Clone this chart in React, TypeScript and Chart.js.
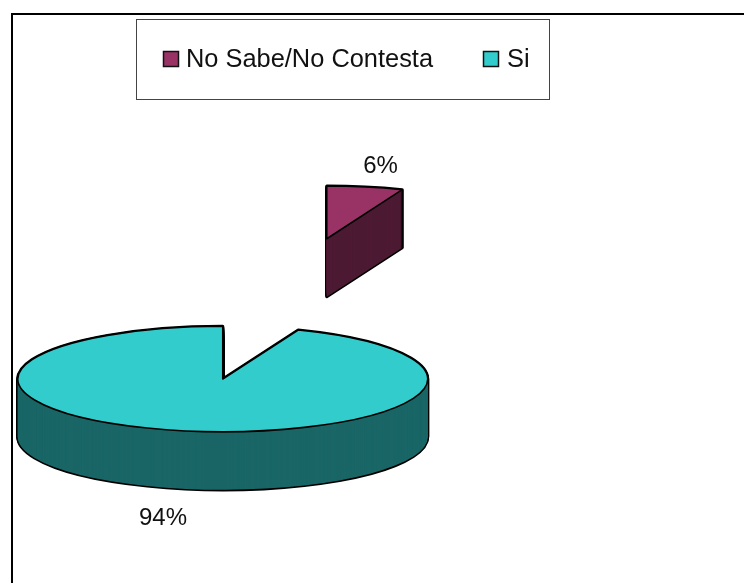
import { useEffect, useRef } from "react";
import { Chart, registerables } from "chart.js";

Chart.register(...registerables);

const categories = ["No Sabe/No Contesta", "Si"];
const shares = [6, 94];
const topColors = ["#993366", "#33CCCC"];
const sideColors = ["#4D1A33", "#1A6666"];

const LABEL_FONT = '24px "Liberation Sans", Arial, sans-serif';
const LEGEND_FONT = '25.4px "Liberation Sans", Arial, sans-serif';
const TILT = 53 / 206; // vertical squash of the pie plane
const DEPTH = 58; // height of the extruded rim
const PLANE_Y = 379; // screen y of the pie centre
const EXPLODE = [555, 0]; // radial pull of each slice, before the squash
const LABEL_POS = [
  { x: 380.5, y: 173 },
  { x: 163, y: 525 },
];
const LEGEND_BOX = { left: 136, top: 19, right: 549, bottom: 99 };
const LEGEND_KEYS = [
  { box: 163, text: 186 },
  { box: 483, text: 507 },
];

// Traces one slice as a squashed wedge, shifted down by `drop` pixels.
function wedgePath(ctx: CanvasRenderingContext2D, arc: any, explode: number, drop: number) {
  const { x, outerRadius, startAngle, endAngle } = arc.getProps(
    ["x", "outerRadius", "startAngle", "endAngle"],
    true,
  );
  const mid = (startAngle + endAngle) / 2;
  const cx = x + Math.cos(mid) * explode;
  const cy = PLANE_Y + Math.sin(mid) * explode * TILT + drop;
  ctx.beginPath();
  ctx.moveTo(cx, cy);
  ctx.ellipse(cx, cy, outerRadius, outerRadius * TILT, 0, startAngle, endAngle);
  ctx.closePath();
}

const tiltedPie = {
  id: "tiltedPie",
  beforeDraw(chart: any) {
    const { ctx, width, height } = chart;
    ctx.save();
    ctx.fillStyle = "#ffffff";
    ctx.fillRect(0, 0, width, height);
    ctx.strokeStyle = "#000000";
    ctx.lineWidth = 2;
    ctx.strokeRect(12, 14, width + 20, height + 20);
    ctx.restore();
  },
  beforeDatasetDraw(chart: any, args: any) {
    const { ctx } = chart;
    const arcs = chart.getDatasetMeta(args.index).data;
    ctx.save();
    ctx.lineJoin = "round";
    arcs.forEach((arc: any, i: number) => {
      // Outline of the whole extruded body, then its fill on top.
      ctx.strokeStyle = "#000000";
      ctx.lineWidth = 3;
      for (let d = DEPTH; d >= 0; d -= 1) {
        wedgePath(ctx, arc, EXPLODE[i], d);
        ctx.stroke();
      }
      ctx.fillStyle = sideColors[i];
      for (let d = DEPTH; d >= 0; d -= 1) {
        wedgePath(ctx, arc, EXPLODE[i], d);
        ctx.fill();
      }
      // Top face.
      wedgePath(ctx, arc, EXPLODE[i], 0);
      ctx.fillStyle = topColors[i];
      ctx.fill();
      ctx.lineWidth = 1.6;
      ctx.stroke();
    });
    ctx.restore();
    return false;
  },
  afterDraw(chart: any) {
    const { ctx } = chart;
    const total = shares.reduce((a, b) => a + b, 0);
    ctx.save();
    ctx.textBaseline = "alphabetic";

    // Percent labels beside each slice.
    ctx.font = LABEL_FONT;
    ctx.fillStyle = "#111111";
    ctx.textAlign = "center";
    shares.forEach((v, i) => {
      ctx.fillText(`${Math.round((v / total) * 100)}%`, LABEL_POS[i].x, LABEL_POS[i].y);
    });

    // Legend frame and keys.
    const b = LEGEND_BOX;
    ctx.strokeStyle = "#444444";
    ctx.lineWidth = 1;
    ctx.strokeRect(b.left + 0.5, b.top + 0.5, b.right - b.left, b.bottom - b.top);
    ctx.font = LEGEND_FONT;
    ctx.textAlign = "left";
    categories.forEach((name, i) => {
      const k = LEGEND_KEYS[i];
      ctx.fillStyle = topColors[i];
      ctx.fillRect(k.box + 0.5, 51.5, 15, 15);
      ctx.strokeStyle = "#111111";
      ctx.lineWidth = 1.5;
      ctx.strokeRect(k.box + 0.5, 51.5, 15, 15);
      ctx.fillStyle = "#111111";
      ctx.fillText(name, k.text, 67);
    });
    ctx.restore();
  },
};

export default function App() {
  const ref = useRef<HTMLCanvasElement>(null);
  useEffect(() => {
    const chart = new Chart(ref.current!, {
      type: "pie",
      data: {
        labels: categories,
        datasets: [{ data: shares, backgroundColor: topColors, borderColor: "#000000" }],
      },
      options: {
        animation: false,
        responsive: false,
        layout: { padding: { left: 16.5, right: 315, top: 100, bottom: 71 } },
        plugins: { legend: { display: false }, tooltip: { enabled: false } },
      },
      plugins: [tiltedPie],
    });
    return () => chart.destroy();
  }, []);
  return (
    <canvas
      ref={ref}
      width={744}
      height={583}
      style={{ position: "absolute", left: 0, top: 0, display: "block" }}
    />
  );
}
